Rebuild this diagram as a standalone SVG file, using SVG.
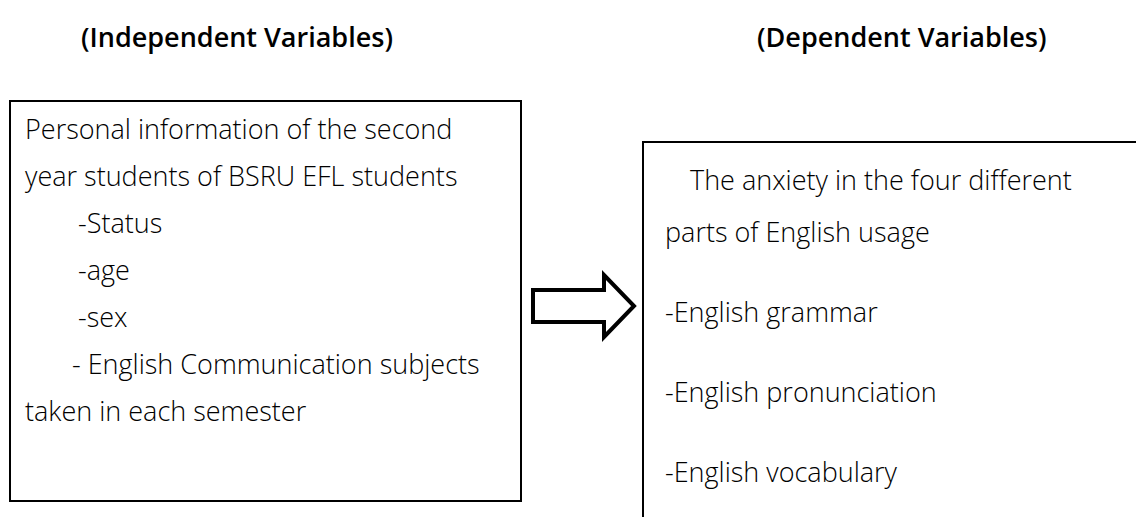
<svg xmlns="http://www.w3.org/2000/svg" width="1136" height="517" viewBox="0 0 1136 517">
<style>
  .t { font-family: "Open Sans", "Noto Sans", "DejaVu Sans", sans-serif; font-size: 27px; font-weight: 300; fill: #000; }
  .h { font-weight: 600; }
  .box { fill: #fff; stroke: #000; stroke-width: 2; }
  .arrow { fill: #fff; stroke: #000; stroke-width: 4; stroke-linejoin: miter; }
</style>
<rect width="1136" height="517" fill="#fff"/>
<g id="title-independent">
  <text class="t h" x="81" y="47">(Independent Variables)</text>
</g>
<g id="title-dependent">
  <text class="t h" x="757" y="47">(Dependent Variables)</text>
</g>
<g id="node-independent">
  <rect class="box" x="10" y="101" width="511" height="400"/>
  <text class="t" x="25" y="139">Personal information of the second</text>
  <text class="t" x="25" y="186">year students of BSRU EFL students</text>
  <text class="t" x="78" y="233">-Status</text>
  <text class="t" x="78" y="280">-age</text>
  <text class="t" x="78" y="327">-sex</text>
  <text class="t" x="72" y="374">- English Communication subjects</text>
  <text class="t" x="25" y="421">taken in each semester</text>
</g>
<g id="node-dependent">
  <rect class="box" x="643" y="142" width="600" height="500"/>
  <text class="t" x="690" y="190">The anxiety in the four different</text>
  <text class="t" x="665" y="242">parts of English usage</text>
  <text class="t" x="665" y="322">-English grammar</text>
  <text class="t" x="665" y="402">-English pronunciation</text>
  <text class="t" x="665" y="482">-English vocabulary</text>
</g>
<g id="connectors">
  <path class="arrow" d="M533,290 H604 V275 L634,306 L604,337 V322 H533 Z"/>
</g>
</svg>
